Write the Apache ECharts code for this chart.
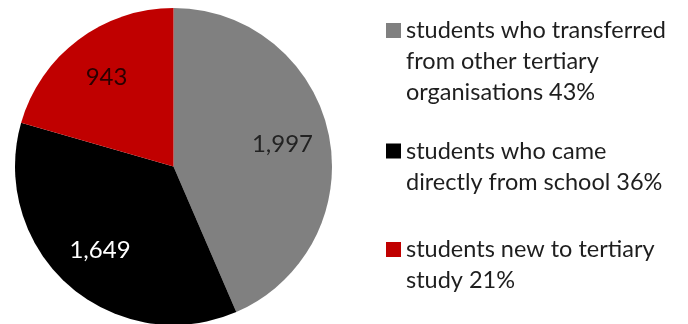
<!DOCTYPE html>
<html>
<head>
<meta charset="utf-8">
<style>
  html, body { margin: 0; padding: 0; background: #fff; }
  #chart { width: 688px; height: 324px; }
</style>
<script src="https://cdn.jsdelivr.net/npm/echarts@6/dist/echarts.min.js"></script>
</head>
<body>
<div id="chart"></div>
<script>
// Student intake by origin
const categories = [
  'students who transferred\nfrom other tertiary\norganisations 43%',
  'students who came\ndirectly from school 36%',
  'students new to tertiary\nstudy 21%'
];
const counts = [1997, 1649, 943];

const sliceColors = ['#808080', '#000000', '#c00000'];
const labelColors = ['#222222', '#ffffff', '#2a0000'];
const legendTops = [30.5, 151, 249.5];   // vertical centre of each legend swatch

const FONT = 'Lato, "Open Sans", sans-serif';
const LINE_H = 31;
const CENTER = [173.5, 166.5];
const R = 158.5;

const chart = echarts.init(document.getElementById('chart'), null, { renderer: 'canvas' });

// One legend block per category so each can sit at its own height;
// blank lines are prepended so the swatch lines up with the first text line.
const legends = categories.map((name, i) => {
  const n = name.split('\n').length;
  const blockH = (2 * n - 1) * LINE_H;
  return {
    data: [name],
    orient: 'vertical',
    left: 386,
    top: legendTops[i] - blockH / 2,
    padding: 0,
    itemWidth: 15,
    itemHeight: 15,
    itemGap: 0,
    icon: 'rect',
    selectedMode: false,
    formatter: (nm) => '\n'.repeat(n - 1) + nm,
    textStyle: {
      fontFamily: FONT,
      fontSize: 23.5,
      lineHeight: LINE_H,
      color: '#1e1e1e',
      padding: [0, 0, 0, 0]
    }
  };
});

const pieData = categories.map((name, i) => ({
  name,
  value: counts[i],
  itemStyle: { color: sliceColors[i] }
}));

chart.setOption({
  animation: false,
  legend: legends,
  series: [
    {
      type: 'pie',
      center: CENTER,
      radius: [0, R],
      startAngle: 90,
      clockwise: true,
      silent: true,
      label: { show: false },
      labelLine: { show: false },
      itemStyle: { borderWidth: 0 },
      data: pieData
    },
    {
      // transparent ring that carries the value labels a little further out
      type: 'pie',
      center: CENTER,
      radius: [58, R],
      startAngle: 90,
      clockwise: true,
      silent: true,
      itemStyle: { color: 'rgba(0,0,0,0)', borderWidth: 0 },
      label: {
        show: true,
        position: 'inside',
        fontFamily: FONT,
        fontSize: 24,
        formatter: (p) => p.value.toLocaleString('en-US')
      },
      labelLine: { show: false },
      data: categories.map((name, i) => ({
        name,
        value: counts[i],
        label: { color: labelColors[i] }
      }))
    }
  ]
});
</script>
</body>
</html>
